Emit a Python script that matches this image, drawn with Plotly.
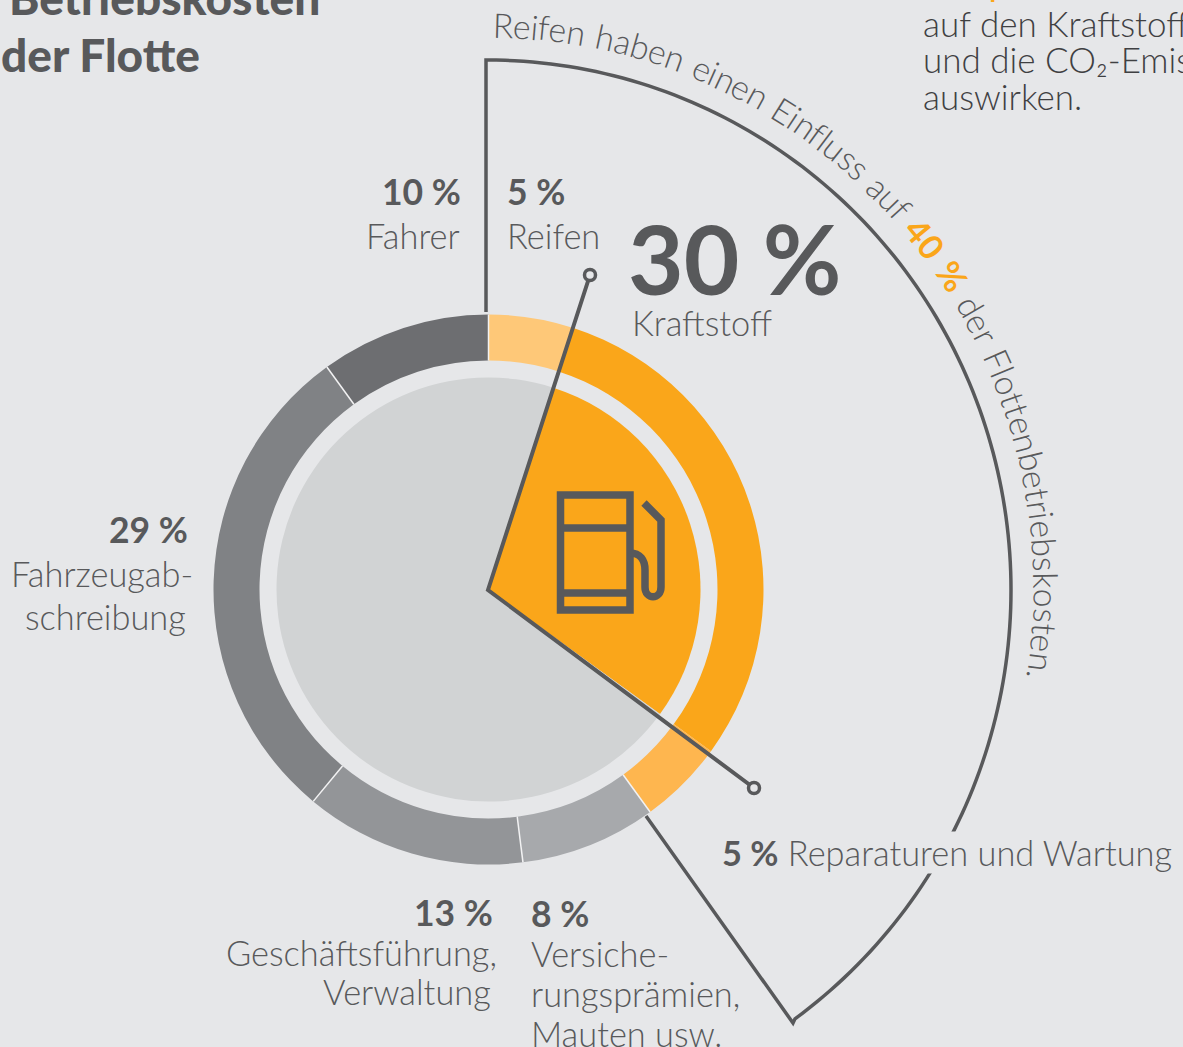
import math
import plotly.graph_objects as go

W, H = 1183, 1047
CX, CY = 488.5, 589.5
BG = "#E6E7E9"
DARK = "#58595B"
ORANGE = "#FAA61A"

# Data
ring_labels = ["Reifen", "Kraftstoff", "Reparaturen und Wartung", "Versicherungsprämien, Mauten usw.",
               "Geschäftsführung, Verwaltung", "Fahrzeugabschreibung", "Fahrer"]
ring_values = [5, 30, 5, 8, 13, 29, 10]
ring_colors = ["#FEC878", ORANGE, "#FEB64F", "#A7A9AC", "#939598", "#808285", "#6D6E71"]
inner_labels = ["Kraftstoff", "Übrige Kosten"]
inner_values = [30, 70]
inner_colors = [ORANGE, "#D1D3D4"]

arc_text_a = "Reifen haben einen Einfluss auf "
arc_text_b = "40 %"
arc_text_c = " der Flottenbetriebskosten."

R_OUT, R_HOLE, R_IN = 275, 229, 212


def fx(x):
    return x / W


def fy(y):
    return 1 - y / H


def dom(r):
    return dict(x=[fx(CX - r), fx(CX + r)], y=[fy(CY + r), fy(CY - r)])


fig = go.Figure()
fig.add_trace(go.Pie(labels=ring_labels, values=ring_values, hole=R_HOLE / R_OUT, sort=False, direction="clockwise",
                     rotation=0, domain=dom(R_OUT), textinfo="none", hoverinfo="label+value", showlegend=False,
                     marker=dict(colors=ring_colors, line=dict(width=0))))
fig.add_trace(go.Pie(labels=inner_labels, values=inner_values, sort=False, direction="clockwise",
                     rotation=18, domain=dom(R_IN), textinfo="none", hoverinfo="label+value", showlegend=False,
                     marker=dict(colors=inner_colors, line=dict(width=0))))

shapes = []
ln = dict(color=DARK, width=4)


def path(points, line=ln, fill=None):
    d = "M " + " L ".join(f"{fx(x):.5f} {fy(y):.5f}" for x, y in points)
    shapes.append(dict(type="path", xref="paper", yref="paper", path=d, line=line, layer="above",
                       fillcolor=fill or "rgba(0,0,0,0)"))


def polar(deg, r, rx=None, cx=CX, cy=CY):
    a = math.radians(deg)
    return cx + (rx or r) * math.sin(a), cy - r * math.cos(a)


# white separators between the grey ring segments
total = sum(ring_values)
acc = 0
for i, v in enumerate(ring_values):
    acc += v
    if i >= 2:
        ang = 360 * acc / total
        path([polar(ang, R_HOLE), polar(ang, R_OUT)], dict(color="#F2F2F3", width=1.5))

# bracket around the tyre-influenced share
bracket = [(486, 312), (486, 60)]
for k in range(0, 145):
    bracket.append(polar(k, 530, 524, 487, 590))
bracket += [(793, 1023), (646, 816)]
path(bracket, dict(color=DARK, width=3.5))

# leader lines
path([(590, 275), (488, 590), (754, 788)], ln)
for (x, y) in [(590, 275), (754, 788)]:
    shapes.append(dict(type="circle", xref="paper", yref="paper", x0=fx(x - 5.5), x1=fx(x + 5.5),
                       y0=fy(y + 5.5), y1=fy(y - 5.5), line=dict(color=DARK, width=3.5), fillcolor=BG))


# fuel pump icon
def ipath(d):
    parts = d.split()
    out = []
    i = 0
    while i < len(parts):
        if parts[i].isalpha():
            out.append(parts[i])
            i += 1
        else:
            out.append(f"{fx(float(parts[i])):.5f} {fy(float(parts[i + 1])):.5f}")
            i += 2
    shapes.append(dict(type="path", xref="paper", yref="paper", path=" ".join(out),
                       line=dict(color=DARK, width=7.5), layer="above"))


ipath("M 560.5 495 L 630 495 L 630 610 L 560.5 610 Z")
ipath("M 560.5 528 L 630 528")
ipath("M 558.5 593 L 630 593")
ipath("M 630 553 C 640 553 645 560 645 570 L 645 587 C 645 600 661 600 661 587 L 661 520 L 644 503")

ann = []
LIGHT = dict(family="Lato", weight=300, color=DARK, size=34.4)
BOLD = dict(family="Lato", weight=700, color=DARK, size=35.5)


def text(s, x, y, anchor="left", font=LIGHT, yanchor="middle", **kw):
    ann.append(dict(text=s, x=fx(x), y=fy(y), xref="paper", yref="paper", xanchor=anchor, yanchor=yanchor,
                    showarrow=False, font=font, borderpad=0, **kw))


TITLE = dict(family="Lato", weight=900, color=DARK, size=46)
text("Betriebskosten", 321, 26, "right", TITLE, "bottom")
text("der Flotte", 201, 83, "right", TITLE, "bottom")

text("10 %", 462, 192, "right", BOLD)
text("Fahrer", 461, 235, "right")
text("5 %", 506, 192, "left", BOLD)
text("Reifen", 506, 235, "left")
text("30 %", 627, 258, "left", dict(family="Lato", weight=700, color=DARK, size=96))
text("Kraftstoff", 631, 322, "left")
text("29 %", 189, 529, "right", BOLD)
text("Fahrzeugab-", 194, 573, "right")
text("schreibung", 187, 616, "right")
text("13 %", 494, 912, "right", BOLD)
text("Geschäftsführung,", 498, 952, "right")
text("Verwaltung", 492, 991, "right")
text("8 %", 530, 913, "left", BOLD)
text("Versiche-", 530, 953, "left")
text("rungsprämien,", 530, 993, "left")
text("Mauten usw.", 530, 1033, "left")
text("<b>5 %</b> Reparaturen und Wartung", 721, 852, "left", bgcolor=BG)

DK2 = dict(family="Lato", weight=300, color="#3F4042", size=35)
text("auf den Kraftstoff", 922, 23, "left", DK2)
text("und die CO₂-Emis", 922, 59, "left", DK2)
text("auswirken.", 922, 96, "left", DK2)
text("4", 979, 10, "left", dict(family="Lato", weight=700, color=ORANGE, size=31), "bottom")

# text along the arc, one glyph at a time
EM = {"R": .60, "e": .53, "i": .22, "f": .32, "n": .55, " ": .33, "h": .55, "a": .50, "b": .57, "E": .56,
      "l": .23, "u": .55, "s": .43, "o": .58, "r": .36, "d": .57, "F": .53, "t": .35, "k": .50, ".": .20,
      "4": .60, "0": .60, "%": .85}
chars = [(c, False) for c in arc_text_a] + [(c, True) for c in arc_text_b] + [(c, False) for c in arc_text_c]
widths = [EM[c] for c, _ in chars]
A0, A1 = 0.6, 99.0
tot = sum(widths)
pos = 0.0
for (c, hot), w in zip(chars, widths):
    ang = A0 + (A1 - A0) * (pos + w / 2) / tot
    pos += w
    if c == " ":
        continue
    x, y = polar(ang, 566, 560, 487, 590)
    f = dict(family="Lato", weight=700 if hot else 300, color=ORANGE if hot else DARK, size=34)
    ann.append(dict(text=c, x=fx(x), y=fy(y), xref="paper", yref="paper", xanchor="center", yanchor="middle",
                    showarrow=False, textangle=ang, font=f, borderpad=0))

fig.update_layout(width=W, height=H, autosize=False, margin=dict(l=0, r=0, t=0, b=0), paper_bgcolor=BG,
                  plot_bgcolor=BG, showlegend=False, shapes=shapes, annotations=ann,
                  font=dict(family="Lato", color=DARK))
fig.write_html("out.html", config=dict(displayModeBar=False),
               post_script="document.body.style.margin='0';document.body.style.background='#E6E7E9';document.body.style.overflow='hidden';")
